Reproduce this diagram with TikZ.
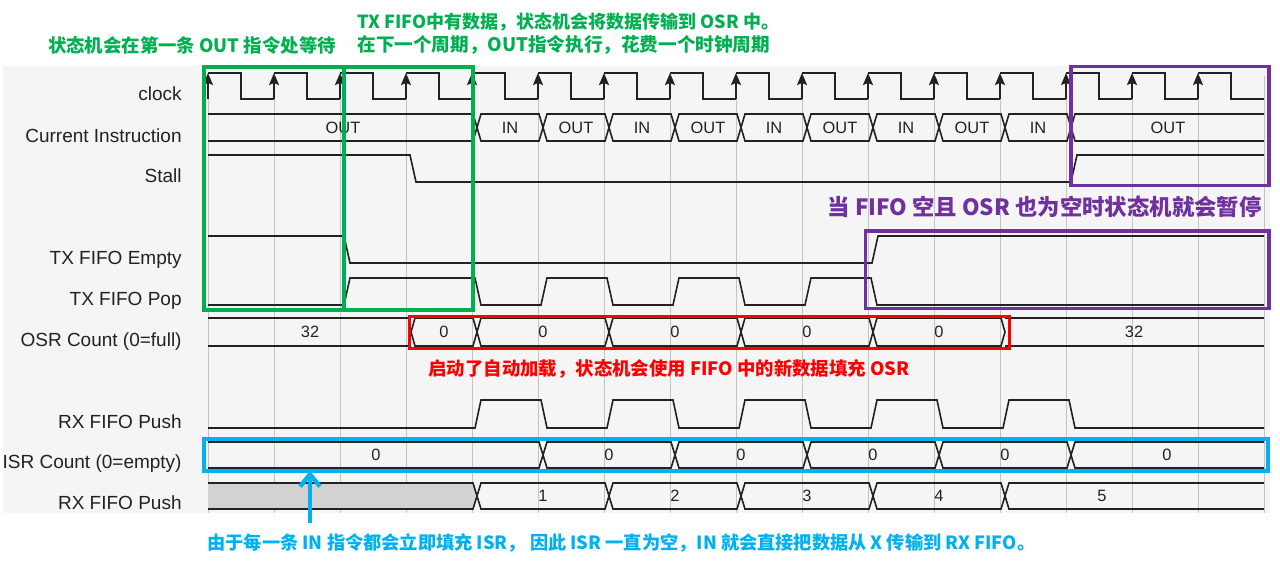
\documentclass[tikz,border=0pt]{standalone}
\usepackage{fontspec}
\setmainfont{Liberation Sans}
\newfontfamily\cjk{Noto Sans CJK SC}
\usetikzlibrary{arrows.meta}
\definecolor{PanelGray}{HTML}{F5F5F5}
\definecolor{GridGray}{HTML}{C4C4C4}
\definecolor{PushGray}{HTML}{D2D2D2}
\definecolor{WaveBlack}{HTML}{222222}
\definecolor{NoteGreen}{HTML}{00B050}
\definecolor{NoteRed}{HTML}{FF0000}
\definecolor{NotePurple}{HTML}{7030A0}
\definecolor{NoteBlue}{HTML}{00B0F0}
\tikzset{
  sig/.style={draw=WaveBlack, line width=0.8pt},
  gridline/.style={draw=GridGray, line width=0.5pt},
  signame/.style={anchor=base east, inner sep=0pt, text=WaveBlack, font=\fontsize{9.5}{12}\selectfont},
  busname/.style={inner sep=0pt, text=WaveBlack, font=\fontsize{8.2}{9}\selectfont},
  notetext/.style={inner sep=0pt, font=\cjk\bfseries\fontsize{#1}{#1}\selectfont},
  notetext/.default=9,
  markbox/.style={line width=1.8pt},
  israrrow/.style={draw=NoteBlue, line width=2.2pt, -{Straight Barb[length=6pt,width=10pt]}},
}
% one bus value between two clock edges, crossing at both ends
\newcommand{\busval}[5]{%
  \draw[sig] ({#1+5},{(#3+#4)/2}) -- ({#1+9},#3) -- ({#2+1},#3) -- ({#2+5},{(#3+#4)/2})
    -- ({#2+1},#4) -- ({#1+9},#4) -- cycle;
  \node[busname] (b#3x#1) at ({(#1+#2)/2+5},{(#3+#4)/2}) {#5};}

\begin{document}
\begin{tikzpicture}[x=0.5pt, y=-0.5pt]
\useasboundingbox (0,0) rectangle (1280,562);
\fill[PanelGray] (3,66) rectangle (1270,513);
\foreach \k in {0,...,16}
  \draw[gridline] ({208+66*\k},76) -- ({208+66*\k},513);

%signal names
\node[signame] (lclk) at (182,100) {clock};
\node[signame] (lci) at (182,142) {Current Instruction};
\node[signame] (lstall) at (182,182) {Stall};
\node[signame] (ltxe) at (182,264) {TX FIFO Empty};
\node[signame] (ltxp) at (182,305) {TX FIFO Pop};
\node[signame] (losr) at (182,346) {OSR Count (0=full)};
\node[signame] (lrxp) at (182,428) {RX FIFO Push};
\node[signame] (lisr) at (182,468) {ISR Count (0=empty)};
\node[signame] (lrxb) at (182,509) {RX FIFO Push};

%clock
\foreach \k in {0,...,15} {
  \draw[sig, -{Stealth[length=6pt,width=5pt,inset=1pt]}] ({208+66*\k},99) -- ({208+66*\k},73);
  \draw[sig] ({208+66*\k},73) -- ({241+66*\k},73) -- ({241+66*\k},99) -- ({274+66*\k},99);
}

%current instruction
\draw[sig] (208,114) -- (473,114) -- (477,127.5) -- (473,141) -- (208,141);
\node[busname] (ciout0) at (343,127.5) {OUT};
\foreach \a/\b/\t in {472/538/IN,538/604/OUT,604/670/IN,670/736/OUT,736/802/IN,802/868/OUT,868/934/IN,934/1000/OUT,1000/1066/IN}
  {\busval{\a}{\b}{114}{141}{\t}}
\draw[sig] (1264,114) -- (1075,114) -- (1071,127.5) -- (1075,141) -- (1264,141);
\node[busname] (ciout1) at (1168,127.5) {OUT};

%stall, tx fifo
\draw[sig] (208,155) -- (410,155) -- (416,182) -- (1071,182) -- (1077,155) -- (1264,155);
\draw[sig] (208,236) -- (344,236) -- (350,263) -- (872,263) -- (878,236) -- (1264,236);
\draw[sig] (208,305) -- (344,305) -- (350,278) -- (475,278) -- (481,305)
  \foreach \k in {5,7,9} { -- ({211+66*\k},305) -- ({217+66*\k},278) -- ({277+66*\k},278) -- ({283+66*\k},305)}
  -- (1264,305);

%osr count
\draw[sig] (208,318) -- (408,318) (208,346) -- (408,346);
\node[busname] (osr32a) at (310,332) {32};
\foreach \a/\b in {406/472,472/604,604/736,736/868,868/1000}
  {\busval{\a}{\b}{318}{346}{0}}
\draw[sig] (1005,318) -- (1264,318) (1005,346) -- (1264,346);
\node[busname] (osr32b) at (1134,332) {32};

%rx fifo push
\draw[sig] (208,428) \foreach \k in {4,6,8,10,12} { -- ({211+66*\k},428) -- ({217+66*\k},400) -- ({277+66*\k},400) -- ({283+66*\k},428)}
  -- (1264,428);

%isr count
\draw[sig] (208,442) -- (539,442) -- (543,455) -- (539,468) -- (208,468);
\node[busname] (isr0) at (376,455) {0};
\foreach \a/\b in {538/670,670/802,802/934,934/1066}
  {\busval{\a}{\b}{442}{468}{0}}
\draw[sig] (1264,442) -- (1075,442) -- (1071,455) -- (1075,468) -- (1264,468);
\node[busname] (isr5) at (1167,455) {0};

%rx fifo values
\filldraw[sig, fill=PushGray] (208,483) -- (473,483) -- (477,496) -- (473,509) -- (208,509);
\foreach \a/\b/\t in {472/604/1,604/736/2,736/868/3,868/1000/4}
  {\busval{\a}{\b}{483}{509}{\t}}
\draw[sig] (1264,483) -- (1009,483) -- (1005,496) -- (1009,509) -- (1264,509);
\node[busname] (rx5) at (1102,496) {5};

%marks
\draw[markbox, NoteGreen] (204,67) rectangle (344,310);
\draw[markbox, NoteGreen] (344,67) rectangle (473,310);
\draw[markbox, NoteRed] (409.5,316.5) rectangle (1009.5,348.5);
\draw[markbox, NotePurple] (1071,66.5) rectangle (1269,185.5);
\draw[markbox, NotePurple] (865.5,231) rectangle (1269,308.5);
\coordinate (isrbox) at (204,471);
\draw[markbox, NoteBlue] (isrbox) rectangle (1268,439);

%notes
\node[notetext=9.2, text=NoteGreen] (waitnote) at (192,45) {状态机会在第一条 OUT 指令处等待};
\node[notetext, text=NoteGreen, anchor=west] (popnote) at (357,22) {TX FIFO中有数据，状态机会将数据传输到 OSR 中。};
\node[notetext=9.3, text=NoteGreen, anchor=west] (runnote) at (357,45) {在下一个周期，OUT指令执行，花费一个时钟周期};
\node[notetext=9.2, text=NoteRed, anchor=west] (autonote) at (428,369) {启动了自动加载，状态机会使用 FIFO 中的新数据填充 OSR};
\node[notetext=11.2, text=NotePurple, anchor=east] (stallnote) at (1262,207) {当 FIFO 空且 OSR 也为空时状态机就会暂停};
\node[notetext=9.1, text=NoteBlue, anchor=west] (isrnote) at (207,543) {由于每一条 IN 指令都会立即填充 ISR， 因此 ISR 一直为空，IN 就会直接把数据从 X 传输到 RX FIFO。};
\coordinate (isrtail) at (310,523);
\draw[israrrow] (isrtail) -- (isrtail |- isrbox);
\end{tikzpicture}
\end{document}
